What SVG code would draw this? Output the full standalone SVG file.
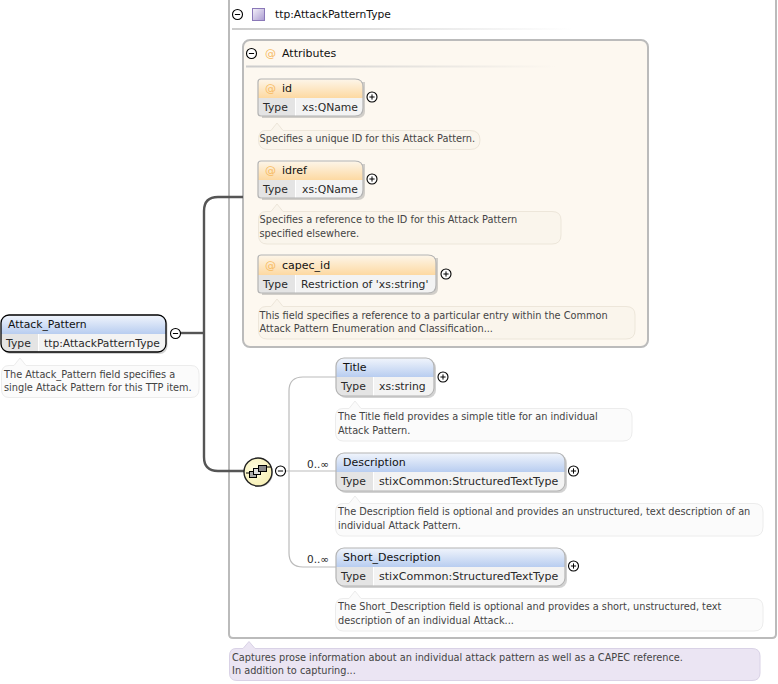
<svg xmlns="http://www.w3.org/2000/svg" width="778" height="684" viewBox="0 0 778 684">
<style>
text{font-family:"DejaVu Sans","Liberation Sans",sans-serif;font-size:10.8px;fill:#2a2a2a}
.t{font-size:11px;fill:#111}
.n{font-size:9.76px;fill:#444}
.at{fill:#f7bb62;font-size:11px}
.card{fill:none;stroke:#b4b4b4;stroke-width:1.200}
.shadow{fill:#888;opacity:.38}
.tc{fill:#e4e4e4}.vc{fill:#f3f3f3}
.sep{stroke:#fff;stroke-width:1;fill:none}
.noteA{fill:#faf5ec;stroke:#ede6da}
.noteE{fill:#fbfbfb;stroke:#ececec}
.noteT{fill:#ebe5f3;stroke:#d9d2e6}
.thin{fill:none;stroke:#bbb;stroke-width:1.200}
.thick{fill:none;stroke:#555;stroke-width:2.400}
</style>
<defs>
<linearGradient id="gE" x1="0" y1="0" x2="0" y2="1"><stop offset="0" stop-color="#f1f5fc"/><stop offset="1" stop-color="#b8cdf0"/></linearGradient>
<linearGradient id="gA" x1="0" y1="0" x2="0" y2="1"><stop offset="0" stop-color="#fdf6ea"/><stop offset="1" stop-color="#fdd9a2"/></linearGradient>
<linearGradient id="gS" x1="0" y1="0" x2="1" y2="1"><stop offset="0" stop-color="#f5f2fa"/><stop offset="1" stop-color="#a99ad0"/></linearGradient>
<linearGradient id="gL" x1="0" y1="0" x2="1" y2="0"><stop offset="0" stop-color="#ccc"/><stop offset="1" stop-color="#ccc" stop-opacity="0"/></linearGradient>
<radialGradient id="gC" cx=".4" cy=".4" r=".7"><stop offset="0" stop-color="#fffde0"/><stop offset="1" stop-color="#f6eeb0"/></radialGradient>
<g id="plus"><circle r="5" fill="#fff" stroke="#000" stroke-width="1.100"/><path d="M-2.600 0H2.600M0-2.600V2.600" stroke="#000" stroke-width="1"/></g>
<g id="minus"><circle r="5" fill="#fff" stroke="#000" stroke-width="1.100"/><path d="M-2.600 0H2.600" stroke="#000" stroke-width="1"/></g>
</defs>

<g id="type-box">
<path d="M229 -2H776V634Q776 638 772 638H233Q229 638 229 634Z" fill="#fff" stroke="#bbb" stroke-width="2"/>
<use href="#minus" x="237.500" y="14.500"/>
<rect x="252.500" y="8.500" width="12" height="12" fill="url(#gS)" stroke="#8a78b8"/>
<text class="t" x="275" y="18" style="font-size:10.7px">ttp:AttackPatternType</text>
<rect x="232" y="28" width="340" height="2" fill="url(#gL)"/>
</g>
<g id="type-note">
<path class="noteT" d="M236 648.500H243L249 641.500L255 648.500H752Q760 648.500 760 656V673Q760 680.500 752 680.500H237Q229.500 680.500 229.500 673V656Q229.500 648.500 236 648.500Z"/>
<text class="n" x="232" y="661">Captures prose information about an individual attack pattern as well as a CAPEC reference.</text>
<text class="n" x="232" y="674">In addition to capturing...</text>
</g>

<g id="attributes">
<rect x="243" y="40" width="405" height="307" rx="7" fill="#fdf8f0" stroke="#bbb" stroke-width="2"/>
<use href="#minus" x="251.500" y="53.500"/>
<text class="at" x="265" y="56.500">@</text>
<text class="t" x="282" y="57">Attributes</text>
<rect x="246" y="65.500" width="310" height="2" fill="url(#gL)"/>
</g>

<g id="connectors">
<path class="thick" d="M180 333H204"/>
<path class="thick" d="M243 197H218Q204 197 204 211V457Q204 471 218 471H244"/>
<path class="thin" d="M336 377H303Q289 377 289 391V553Q289 567 303 567H336"/>
<path class="thin" d="M285 471H336"/>
<text x="307" y="467.500" style="font-size:10.5px">0..∞</text>
<text x="307" y="563" style="font-size:10.5px">0..∞</text>
</g>

<g id="attr-id">
<path class="shadow" d="M262 82H365V111Q365 118 358 118H262Z"/>
<path d="M261 79H355Q363 79 363 87V98H258V82Q258 79 261 79Z" fill="url(#gA)"/>
<path d="M258 98H295V116H261Q258 116 258 113Z" class="tc"/>
<path d="M295 98H363V108Q363 116 355 116H295Z" class="vc"/>
<path class="sep" d="M295.500 98V116"/>
<path class="card" d="M261 79H355Q363 79 363 87V108Q363 116 355 116H261Q258 116 258 113V82Q258 79 261 79Z"/>
<text class="at" x="265" y="92">@</text><text class="t" x="282" y="92">id</text>
<text x="263" y="111">Type</text><text x="302" y="111">xs:QName</text>
<use href="#plus" x="372" y="97"/>
<path class="noteA" d="M265 130.500H271L277 123L283 130.500H470Q480 130.500 480 140Q480 149.500 470 149.500H268Q258.500 149.500 258.500 140Q258.500 130.500 265 130.500Z"/>
<text class="n" x="259.500" y="142">Specifies a unique ID for this Attack Pattern.</text>
</g>

<g id="attr-idref">
<path class="shadow" d="M262 164H365V193Q365 200 358 200H262Z"/>
<path d="M261 161H355Q363 161 363 169V180H258V164Q258 161 261 161Z" fill="url(#gA)"/>
<path d="M258 180H295V198H261Q258 198 258 195Z" class="tc"/>
<path d="M295 180H363V190Q363 198 355 198H295Z" class="vc"/>
<path class="sep" d="M295.500 180V198"/>
<path class="card" d="M261 161H355Q363 161 363 169V190Q363 198 355 198H261Q258 198 258 195V164Q258 161 261 161Z"/>
<text class="at" x="265" y="174">@</text><text class="t" x="282" y="174">idref</text>
<text x="263" y="193">Type</text><text x="302" y="193">xs:QName</text>
<use href="#plus" x="372" y="179"/>
<path class="noteA" d="M266 211.500H271L277 204L283 211.500H552Q561 211.500 561 220V235Q561 244 552 244H267Q258.500 244 258.500 235V220Q258.500 211.500 266 211.500Z"/>
<text class="n" x="259.500" y="223">Specifies a reference to the ID for this Attack Pattern</text>
<text class="n" x="259.500" y="236.500">specified elsewhere.</text>
</g>

<g id="attr-capec_id">
<path class="shadow" d="M262 258H438V288Q438 295 431 295H262Z"/>
<path d="M261 255H428Q436 255 436 263V275H258V258Q258 255 261 255Z" fill="url(#gA)"/>
<path d="M258 275H295V293H261Q258 293 258 290Z" class="tc"/>
<path d="M295 275H436V285Q436 293 428 293H295Z" class="vc"/>
<path class="sep" d="M295.500 275V293"/>
<path class="card" d="M261 255H428Q436 255 436 263V285Q436 293 428 293H261Q258 293 258 290V258Q258 255 261 255Z"/>
<text class="at" x="265" y="269">@</text><text class="t" x="282" y="269">capec_id</text>
<text x="263" y="288">Type</text><text x="301" y="288">Restriction of 'xs:string'</text>
<use href="#plus" x="446" y="274"/>
<path class="noteA" d="M266 306.500H271L277 299L283 306.500H626Q635 306.500 635 315V330Q635 339 626 339H267Q258.500 339 258.500 330V315Q258.500 306.500 266 306.500Z"/>
<text class="n" x="259.500" y="319">This field specifies a reference to a particular entry within the Common</text>
<text class="n" x="259.500" y="332">Attack Pattern Enumeration and Classification...</text>
</g>

<g id="element-root">
<rect x="2.500" y="317" width="165" height="37" rx="8" class="shadow"/>
<path d="M9 315H158Q166 315 166 323V334H1V323Q1 315 9 315Z" fill="url(#gE)"/>
<path d="M1 334H38V352H9Q1 352 1 344Z" class="tc"/>
<path d="M38 334H166V344Q166 352 158 352H38Z" class="vc"/>
<path class="sep" d="M38.500 334V352"/>
<rect x="1" y="315" width="165" height="37" rx="8" fill="none" stroke="#000" stroke-width="1.300"/>
<text class="t" x="8" y="328" style="font-size:10.8px">Attack_Pattern</text>
<text x="6" y="347">Type</text><text x="44" y="347" style="font-size:10.7px">ttp:AttackPatternType</text>
<use href="#minus" x="175.500" y="333.500"/>
<path class="noteE" d="M9 365.500H14L20 358L26 365.500H191Q199 365.500 199 374V389Q199 397.500 191 397.500H9Q1.500 397.500 1.500 389V374Q1.500 365.500 9 365.500Z"/>
<text class="n" x="4" y="378">The Attack_Pattern field specifies a</text>
<text class="n" x="4" y="391">single Attack Pattern for this TTP item.</text>
</g>

<g id="choice">
<circle cx="259" cy="473" r="14" fill="#999" opacity=".5"/>
<circle cx="258" cy="472" r="14" fill="url(#gC)" stroke="#222" stroke-width="1.400"/>
<path d="M246 473h3M267 467h4" stroke="#000" fill="none"/>
<rect x="249.500" y="471.500" width="7" height="6" fill="#aaa" stroke="#000"/>
<rect x="253.500" y="468.500" width="7" height="6" fill="#ddd" stroke="#000"/>
<rect x="258.500" y="465.500" width="8" height="6" fill="#888" stroke="#000"/>
<use href="#minus" x="280.500" y="471"/>
</g>

<g id="element-title">
<rect x="338" y="360" width="98" height="38" rx="8" class="shadow"/>
<path d="M344 358H426Q434 358 434 366V377H336V366Q336 358 344 358Z" fill="url(#gE)"/>
<path d="M336 377H373V396H344Q336 396 336 388Z" class="tc"/>
<path d="M373 377H434V388Q434 396 426 396H373Z" class="vc"/>
<path class="sep" d="M373.500 377V396"/>
<rect x="336" y="358" width="98" height="38" rx="8" class="card"/>
<text class="t" x="343" y="371">Title</text>
<text x="341" y="390">Type</text><text x="379" y="390">xs:string</text>
<use href="#plus" x="443" y="377"/>
<path class="noteE" d="M343 408.500H349L355 401L361 408.500H623Q632 408.500 632 417V432Q632 441 623 441H343Q335.500 441 335.500 432V417Q335.500 408.500 343 408.500Z"/>
<text class="n" x="338" y="420">The Title field provides a simple title for an individual</text>
<text class="n" x="338" y="434">Attack Pattern.</text>
</g>

<g id="element-description">
<rect x="338" y="455" width="229" height="38" rx="8" class="shadow"/>
<path d="M344 453H557Q565 453 565 461V472H336V461Q336 453 344 453Z" fill="url(#gE)"/>
<path d="M336 472H373V491H344Q336 491 336 483Z" class="tc"/>
<path d="M373 472H565V483Q565 491 557 491H373Z" class="vc"/>
<path class="sep" d="M373.500 472V491"/>
<rect x="336" y="453" width="229" height="38" rx="8" class="card"/>
<text class="t" x="343" y="466">Description</text>
<text x="341" y="485">Type</text><text x="379" y="485" style="font-size:11.050px">stixCommon:StructuredTextType</text>
<use href="#plus" x="573.500" y="471"/>
<path class="noteE" d="M343 503.500H349L355 496L361 503.500H754Q763 503.500 763 512V527Q763 536 754 536H343Q335.500 536 335.500 527V512Q335.500 503.500 343 503.500Z"/>
<text class="n" x="338" y="515">The Description field is optional and provides an unstructured, text description of an</text>
<text class="n" x="338" y="529">individual Attack Pattern.</text>
</g>

<g id="element-short">
<rect x="338" y="550" width="229" height="38" rx="8" class="shadow"/>
<path d="M344 548H557Q565 548 565 556V567H336V556Q336 548 344 548Z" fill="url(#gE)"/>
<path d="M336 567H373V586H344Q336 586 336 578Z" class="tc"/>
<path d="M373 567H565V578Q565 586 557 586H373Z" class="vc"/>
<path class="sep" d="M373.500 567V586"/>
<rect x="336" y="548" width="229" height="38" rx="8" class="card"/>
<text class="t" x="343" y="561">Short_Description</text>
<text x="341" y="580">Type</text><text x="379" y="580" style="font-size:11.050px">stixCommon:StructuredTextType</text>
<use href="#plus" x="573.500" y="566"/>
<path class="noteE" d="M343 598.500H349L355 591L361 598.500H754Q763 598.500 763 607V622Q763 631 754 631H343Q335.500 631 335.500 622V607Q335.500 598.500 343 598.500Z"/>
<text class="n" x="338" y="610">The Short_Description field is optional and provides a short, unstructured, text</text>
<text class="n" x="338" y="624">description of an individual Attack...</text>
</g>
</svg>
